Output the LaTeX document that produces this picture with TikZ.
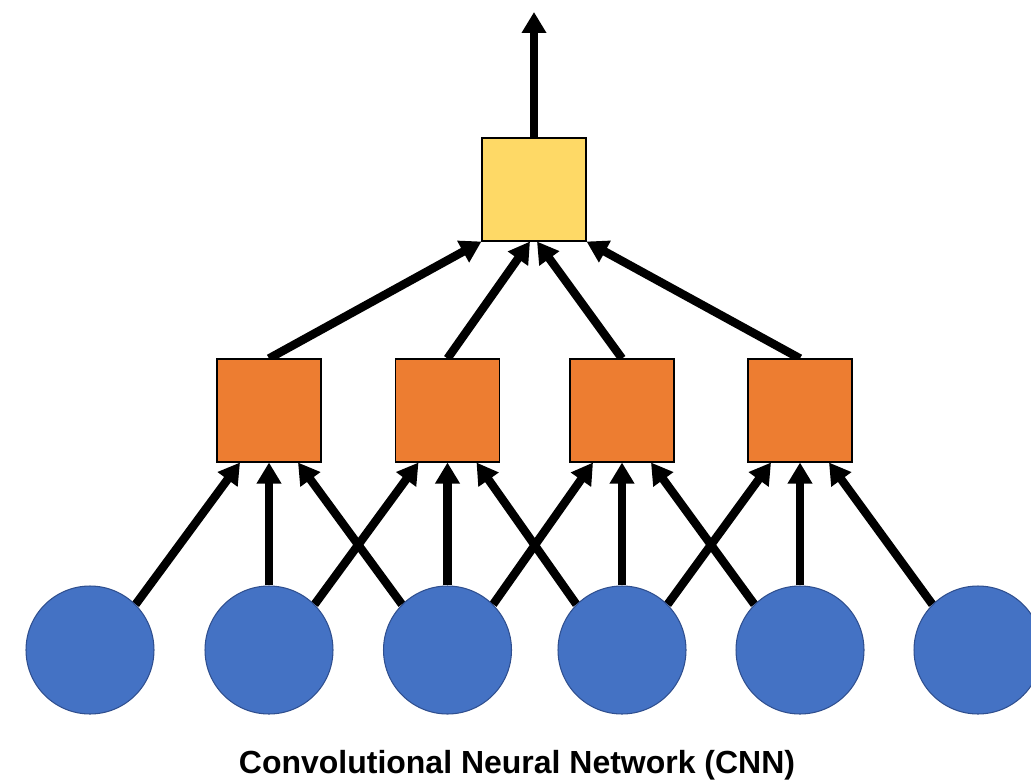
\documentclass[tikz,border=0pt]{standalone}
\usepackage{fontspec}
\setmainfont{Liberation Sans}
\usetikzlibrary{arrows.meta,calc,backgrounds}
\definecolor{inblue}{HTML}{4472C4}
\definecolor{inedge}{HTML}{2F4F8F}
\definecolor{convorange}{HTML}{ED7D31}
\definecolor{outyellow}{HTML}{FED966}
\tikzset{
  inputnode/.style={circle, draw=inedge, line width=0.6pt, fill=inblue, minimum size=2.56cm, inner sep=0pt},
  convnode/.style={rectangle, draw=black, line width=0.6pt, fill=convorange, minimum width=2.08cm, minimum height=2.06cm, inner sep=0pt},
  outnode/.style={rectangle, draw=black, line width=0.6pt, fill=outyellow, minimum width=2.08cm, minimum height=2.06cm, inner sep=0pt},
  link/.style={line width=4.8pt, -{Triangle[width=0.47cm,length=0.42cm]}},
}
\begin{document}
\begin{tikzpicture}[x=0.02cm,y=-0.02cm]
\useasboundingbox (0,0) rectangle (1031,784);
% input layer
\node[inputnode] (c1) at (90,650) {};
\node[inputnode] (c2) at (269,650) {};
\node[inputnode] (c3) at (447.5,650) {};
\node[inputnode] (c4) at (622,650) {};
\node[inputnode] (c5) at (800,650) {};
\node[inputnode] (c6) at (978,650) {};
% convolution layer
\node[convnode] (o1) at (269,410.5) {};
\node[convnode] (o2) at (447.5,410.5) {};
\node[convnode] (o3) at (622,410.5) {};
\node[convnode] (o4) at (800,410.5) {};
% output
\node[outnode] (y) at (534,189.5) {};
\coordinate (top) at (534,12);
% caption
\node[font=\fontsize{18.2pt}{22pt}\selectfont\bfseries] (cap) at (517,765) {Convolutional Neural Network (CNN)};
\begin{scope}[on background layer]
\foreach \i/\j in {1/1,2/2,3/3,4/4}{
  \draw[link] (c\i.45) -- ($(o\j.south)+(-29,0)$);
}
\foreach \i/\j in {2/1,3/2,4/3,5/4}{
  \draw[link] (c\i.north) -- (o\j.south);
}
\foreach \i/\j in {3/1,4/2,5/3,6/4}{
  \draw[link] (c\i.135) -- ($(o\j.south)+(29,0)$);
}
\draw[link] (o1.north) -- (y.south west);
\draw[link] (o2.north) -- ($(y.south)+(-4,0)$);
\draw[link] (o3.north) -- ($(y.south)+(3,0)$);
\draw[link] (o4.north) -- (y.south east);
\draw[link] (y.north) -- (top);
\end{scope}
\end{tikzpicture}
\end{document}
